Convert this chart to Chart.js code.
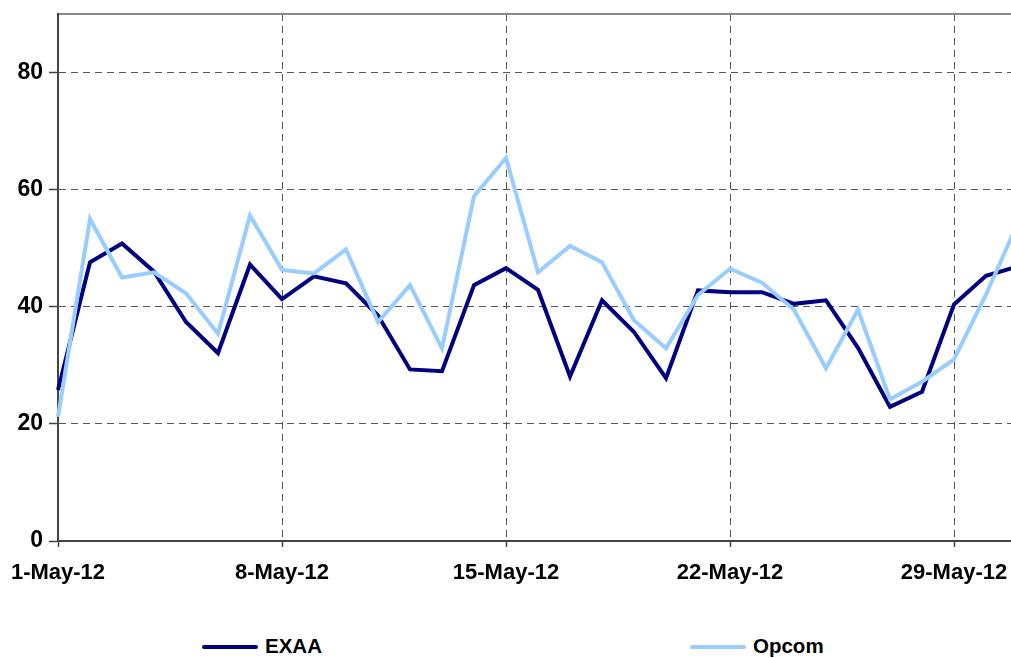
<!DOCTYPE html>
<html>
<head>
<meta charset="utf-8">
<script src="https://cdn.jsdelivr.net/npm/chart.js@4.4.0/dist/chart.umd.min.js"></script>
<style>
    body { margin: 0; background: #fff; overflow: hidden; }
    #wrap { position: relative; width: 1011px; height: 658px; overflow: hidden; }
    #prices { position: absolute; left: 0; top: 0; }
    .leg { position: absolute; top: 634px; height: 26px; font: bold 20.5px "Liberation Sans", Arial, sans-serif; color: #000; }
    .leg span.ln { position: absolute; left: 0; top: 11px; width: 56px; height: 4px; border-radius: 2px; }
    .leg span.tx { position: absolute; left: 63px; top: 0px; white-space: nowrap; }
</style>
</head>
<body>
<div id="wrap">
    <canvas id="prices" width="1030" height="600"></canvas>
    <div class="leg" style="left:202px"><span class="ln" style="background:#000080"></span><span class="tx">EXAA</span></div>
    <div class="leg" style="left:690px"><span class="ln" style="background:#99CCFF"></span><span class="tx">Opcom</span></div>
</div>
<script>
    // daily prices, May 2012
    var days = ['1-May-12', '2-May-12', '3-May-12', '4-May-12', '5-May-12', '6-May-12', '7-May-12',
        '8-May-12', '9-May-12', '10-May-12', '11-May-12', '12-May-12', '13-May-12', '14-May-12',
        '15-May-12', '16-May-12', '17-May-12', '18-May-12', '19-May-12', '20-May-12', '21-May-12',
        '22-May-12', '23-May-12', '24-May-12', '25-May-12', '26-May-12', '27-May-12', '28-May-12',
        '29-May-12', '30-May-12', '31-May-12'];

    var exaa = [25.8, 47.6, 50.8, 46.0, 37.4, 32.1, 47.2, 41.3, 45.2, 44.0, 38.5, 29.3, 29.0, 43.7,
        46.6, 42.9, 28.1, 41.1, 35.7, 27.8, 42.8, 42.5, 42.5, 40.5, 41.1, 33.0, 22.9, 25.5, 40.4, 45.3, 46.9];

    var opcom = [21.2, 55.0, 45.0, 45.9, 42.3, 35.4, 55.6, 46.3, 45.7, 49.8, 37.4, 43.7, 32.9, 58.9,
        65.4, 45.9, 50.4, 47.6, 37.7, 32.9, 42.0, 46.5, 44.1, 39.5, 29.5, 39.5, 24.2, 27.2, 31.0, 42.1, 54.4];

    var xTickLabels = ['1-May-12', '8-May-12', '15-May-12', '22-May-12', '29-May-12'];
    var yTicks = [0, 20, 40, 60, 80];

    var fontFam = '"Liberation Sans", Arial, sans-serif';

    new Chart(document.getElementById('prices'), {
        type: 'line',
        data: {
            labels: days,
            datasets: [
                {
                    label: 'EXAA',
                    data: exaa,
                    borderColor: '#000080',
                    borderWidth: 4,
                    pointRadius: 0,
                    tension: 0,
                    order: 1
                },
                {
                    label: 'Opcom',
                    data: opcom,
                    borderColor: '#99CCFF',
                    borderWidth: 4,
                    pointRadius: 0,
                    tension: 0,
                    order: 0
                }
            ]
        },
        options: {
            responsive: false,
            animation: false,
            layout: { padding: { top: 14, right: 12, bottom: 0, left: 0 } },
            plugins: {
                legend: { display: false },
                tooltip: { enabled: false }
            },
            scales: {
                x: {
                    type: 'category',
                    offset: false,
                    afterBuildTicks: function (axis) {
                        axis.ticks = axis.ticks.filter(function (t) {
                            return xTickLabels.indexOf(days[t.value]) >= 0;
                        });
                    },
                    afterFit: function (axis) {
                        axis.height = 59;
                        axis.paddingLeft = 0;
                        axis.paddingRight = 0;
                    },
                    ticks: {
                        autoSkip: false,
                        maxRotation: 0,
                        padding: 13,
                        color: '#000',
                        font: { family: fontFam, size: 22, weight: 'bold' }
                    },
                    grid: {
                        color: '#555',
                        lineWidth: 1,
                        tickLength: 6,
                        tickColor: '#444',
                        tickWidth: 1.5
                    },
                    border: { color: '#444', width: 2, dash: [7, 5] }
                },
                x2: {
                    type: 'category',
                    position: 'top',
                    labels: days,
                    offset: false,
                    afterFit: function (axis) {
                        axis.height = 0;
                        axis.paddingLeft = 0;
                        axis.paddingRight = 0;
                    },
                    ticks: { display: false },
                    grid: { display: false },
                    border: { color: '#8a8a8a', width: 2 }
                },
                y: {
                    min: 0,
                    max: 90,
                    afterBuildTicks: function (axis) {
                        axis.ticks = yTicks.map(function (v) { return { value: v }; });
                    },
                    afterFit: function (axis) {
                        axis.width = 58;
                        axis.paddingTop = 0;
                        axis.paddingBottom = 0;
                    },
                    ticks: {
                        padding: 6,
                        color: '#000',
                        font: { family: fontFam, size: 23, weight: 'bold' }
                    },
                    grid: {
                        color: '#555',
                        lineWidth: 1,
                        tickLength: 9,
                        tickColor: '#444',
                        tickWidth: 1.5
                    },
                    border: { color: '#444', width: 2, dash: [7, 5] }
                }
            }
        }
    });
</script>
</body>
</html>
